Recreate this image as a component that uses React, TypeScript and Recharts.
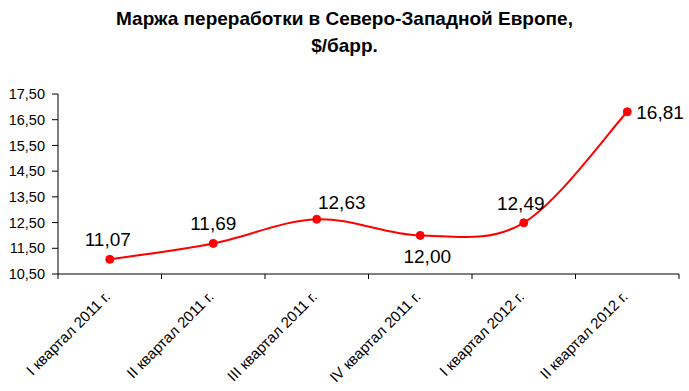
import React from 'react';
import { LineChart, Line, XAxis, YAxis, LabelList } from 'recharts';

const quarters = [
  'I квартал 2011 г.',
  'II квартал 2011 г.',
  'III квартал 2011 г.',
  'IV квартал 2011 г.',
  'I квартал 2012 г.',
  'II квартал 2012 г.',
];
const margin = [11.07, 11.69, 12.63, 12.0, 12.49, 16.81];
const yTicks = [10.5, 11.5, 12.5, 13.5, 14.5, 15.5, 16.5, 17.5];
const xBounds = [0, 1, 2, 3, 4, 5, 6];

// точка ставится в середину своего квартала
const data = quarters.map((q, i) => ({ pos: i + 0.5, q, value: margin[i] }));

const fmt = (v: number) => v.toFixed(2).replace('.', ',');
const FONT = "'Liberation Sans', Arial, sans-serif";
const BAND = (689 - 10 - 58) / quarters.length;

// сглаживание как в Excel (Catmull-Rom через кривые Безье)
const excelSmooth = (context: any) => {
  let pts: number[][] = [];
  return {
    areaStart() {},
    areaEnd() {},
    lineStart() {
      pts = [];
    },
    lineEnd() {
      if (!pts.length) return;
      context.moveTo(pts[0][0], pts[0][1]);
      for (let i = 0; i < pts.length - 1; i++) {
        const p0 = pts[i - 1] || pts[i];
        const p1 = pts[i];
        const p2 = pts[i + 1];
        const p3 = pts[i + 2] || p2;
        context.bezierCurveTo(
          p1[0] + (p2[0] - p0[0]) / 6,
          p1[1] + (p2[1] - p0[1]) / 6,
          p2[0] - (p3[0] - p1[0]) / 6,
          p2[1] - (p3[1] - p1[1]) / 6,
          p2[0],
          p2[1]
        );
      }
    },
    point(x: number, y: number) {
      pts.push([+x, +y]);
    },
  };
};

const ValueLabel = (props: any) => {
  const { x, y, value, index } = props;
  let tx = x;
  let ty = y - 13;
  let anchor: 'middle' | 'start' = 'middle';
  if (index === 0) { tx = x - 2; }
  if (index === 2) { tx = x + 25; ty = y - 10; }
  if (index === 3) { tx = x + 7; ty = y + 28; }
  if (index === 4) { tx = x - 3; }
  if (index === 5) { tx = x + 9; ty = y + 7; anchor = 'start'; }
  return (
    <text x={tx} y={ty} textAnchor={anchor} fontSize={19} fill="#000" fontFamily={FONT}>
      {fmt(value)}
    </text>
  );
};

// тик на границе кварталов + подпись квартала по центру
const QuarterTick = (props: any) => {
  const { x, y, payload } = props;
  const k = payload.value;
  const cx = x + BAND / 2;
  return (
    <g>
      <line x1={x} y1={y - 7} x2={x} y2={y - 2} stroke="#000" />
      {k < quarters.length && (
        <text
          x={cx}
          y={y}
          dx={2}
          dy={18}
          transform={`rotate(-45, ${cx}, ${y + 18})`}
          textAnchor="end"
          fontSize={15}
          fill="#000"
          fontFamily={FONT}
        >
          {quarters[k]}
        </text>
      )}
    </g>
  );
};

export default function App() {
  return (
    <div style={{ position: 'absolute', left: 0, top: 0, width: 689, height: 391, background: '#fff', fontFamily: FONT }}>
      <div style={{ position: 'absolute', left: 0, top: 5, width: 689, textAlign: 'center', fontWeight: 'bold', fontSize: 19, lineHeight: '27px', color: '#000' }}>
        Маржа переработки в Северо-Западной Европе,
        <br />
        $/барр.
      </div>
      <LineChart width={689} height={391} data={data} margin={{ top: 94, right: 10, bottom: 0, left: 0 }}>
        <XAxis
          dataKey="pos"
          type="number"
          domain={[0, quarters.length]}
          ticks={xBounds}
          interval={0}
          height={117}
          tickSize={5}
          tickMargin={2}
          tickLine={false}
          tick={<QuarterTick />}
          axisLine={{ stroke: '#000' }}
        />
        <YAxis
          domain={[10.5, 17.5]}
          ticks={yTicks}
          width={58}
          tickSize={6}
          tickMargin={7}
          tickFormatter={fmt}
          stroke="#000"
          tick={{ fill: '#000', fontSize: 14.5, fontFamily: FONT }}
          interval={0}
        />
        <Line
          type={excelSmooth as any}
          dataKey="value"
          stroke="#ff0000"
          strokeWidth={2}
          dot={{ r: 4, fill: '#ff0000', stroke: '#ff0000', strokeWidth: 1 }}
          isAnimationActive={false}
        >
          <LabelList dataKey="value" content={<ValueLabel />} />
        </Line>
      </LineChart>
    </div>
  );
}
